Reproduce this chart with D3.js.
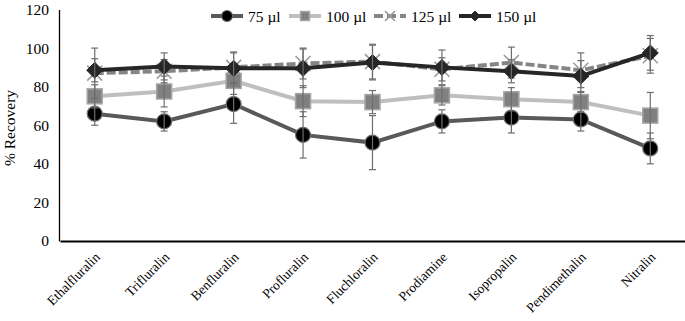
<!DOCTYPE html>
<html>
<head>
<meta charset="utf-8">
<script src="https://cdn.jsdelivr.net/npm/d3@7"></script>
<style>
body{margin:0;background:#fff;}
</style>
</head>
<body>
<svg id="chart"></svg>
<script>
var herbicides = ["Ethalfluralin","Trifluralin","Benfluralin","Profluralin","Fluchloralin","Prodiamine","Isopropalin","Pendimethalin","Nitralin"]
var yTicks = [0,20,40,60,80,100,120]
var seriesNames = ["75 \u00b5l","100 \u00b5l","125 \u00b5l","150 \u00b5l"]

var vol75 = [66,62,71,55,51,62,64,63,48]
var vol100 = [75,77.5,83,72.5,72,75.5,73.5,72,65]
var vol125 = [87,88,90,92,93,89,92.5,88.5,96]
var vol150 = [88.5,90.5,89.5,89.5,92.5,90,88,85.5,97.5]

var err75 = [6,5,10,12,14,6,8,6,8]
var err100 = [6,8,7,8,6,5,6,5,12]
var err125 = [13,6,8,8,9,6,8,9,9]
var err150 = [6,7,8,10,9,9,6,8,9]

var serif = "'Liberation Serif','Times New Roman','DejaVu Serif',serif"

var screen = {width:685,height:321}
var margins = {left:60,right:0,top:9,bottom:80}
var graph = {width:screen.width-margins.left-margins.right,height:screen.height-margins.top-margins.bottom}

var svg = d3.select("#chart")
    .attr("width",screen.width)
    .attr("height",screen.height)

var xScale = d3.scaleBand()
    .domain(herbicides)
    .range([margins.left,margins.left+graph.width])

var yScale = d3.scaleLinear()
    .domain([0,120])
    .range([241,9.5])

var series = [
    {name:seriesNames[0],values:vol75,errs:err75,line:"#595959",marker:"circle",fill:"#000",stroke:"#6e6e6e",dash:null},
    {name:seriesNames[1],values:vol100,errs:err100,line:"#bfbfbf",marker:"square",fill:"#808080",stroke:"#a6a6a6",dash:null},
    {name:seriesNames[2],values:vol125,errs:err125,line:"#858585",marker:"x",fill:"none",stroke:"#9a9a9a",dash:"9,3"},
    {name:seriesNames[3],values:vol150,errs:err150,line:"#262626",marker:"diamond",fill:"#262626",stroke:"#262626",dash:null}
]

var cx = function(i){return xScale(herbicides[i])+xScale.bandwidth()/2}

// axes
var yAxis = d3.axisLeft(yScale).tickValues(yTicks).tickSize(0).tickPadding(10)
svg.append("g")
    .attr("transform","translate("+(margins.left-1)+",0)")
    .call(yAxis)
    .attr("font-family",serif)
    .attr("font-size",15.5)
    .call(function(g){
        g.select(".domain").attr("stroke","#000").attr("stroke-width",1.3)
        g.selectAll("text").style("font-family",serif)
    })

var xAxis = d3.axisBottom(xScale).tickSize(0).tickPadding(0)
svg.append("g")
    .attr("transform","translate(0,"+yScale(0)+")")
    .call(xAxis)
    .attr("font-family",serif)
    .attr("font-size",13.5)
    .call(function(g){
        g.select(".domain").attr("stroke","#000").attr("stroke-width",2)
        g.selectAll("text")
            .style("font-family",serif)
            .attr("text-anchor","end")
            .attr("dy",null)
            .attr("y",0)
            .attr("transform","translate(6,17) rotate(-45)")
    })

svg.append("text")
    .text("% Recovery")
    .attr("text-anchor","middle")
    .style("font-family",serif)
    .style("font-size","15.5px")
    .attr("transform","translate(15,128) rotate(-90)")

var drawMarker = function(g,s,x,y,size)
{
    if(s.marker=="circle"){
        g.append("circle").attr("cx",x).attr("cy",y).attr("r",size/2)
            .attr("fill",s.fill).attr("stroke",s.stroke).attr("stroke-width",1.2)
    } else if(s.marker=="square"){
        g.append("rect").attr("x",x-size/2).attr("y",y-size/2).attr("width",size).attr("height",size)
            .attr("fill",s.fill).attr("stroke",s.stroke).attr("stroke-width",1.5)
    } else if(s.marker=="x"){
        var h = size/2
        g.append("path").attr("d","M"+(x-h)+","+(y-h)+"L"+(x+h)+","+(y+h)+"M"+(x-h)+","+(y+h)+"L"+(x+h)+","+(y-h))
            .attr("stroke",s.stroke).attr("stroke-width",1.6).attr("fill","none")
    } else {
        var d = size/2+0.5
        g.append("path").attr("d","M"+x+","+(y-d)+"L"+(x+d)+","+y+"L"+x+","+(y+d)+"L"+(x-d)+","+y+"Z")
            .attr("fill",s.fill).attr("stroke",s.stroke)
    }
}

var line = d3.line()
    .x(function(d,i){return cx(i)})
    .y(function(d){return yScale(d)})

series.forEach(function(s)
{
    var g = svg.append("g")
    g.append("path")
        .datum(s.values)
        .attr("d",line)
        .attr("fill","none")
        .attr("stroke",s.line)
        .attr("stroke-width",4)
        .attr("stroke-dasharray",s.dash)
    s.values.forEach(function(v,i){
        drawMarker(g,s,cx(i),yScale(v),15)
    })
    var eb = g.append("g").attr("stroke","#6e6e6e").attr("stroke-width",1.2)
    s.values.forEach(function(v,i){
        var x = cx(i), y1 = yScale(v+s.errs[i]), y2 = yScale(v-s.errs[i])
        eb.append("line").attr("x1",x).attr("x2",x).attr("y1",y1).attr("y2",y2)
        eb.append("line").attr("x1",x-3.5).attr("x2",x+3.5).attr("y1",y1).attr("y2",y1)
        eb.append("line").attr("x1",x-3.5).attr("x2",x+3.5).attr("y1",y2).attr("y2",y2)
    })
})

// legend
var legendX = [211,289,374,459]
var legend = svg.append("g")
series.forEach(function(s,i)
{
    var g = legend.append("g").attr("transform","translate("+legendX[i]+",16)")
    g.append("line").attr("x1",0).attr("x2",32).attr("y1",0).attr("y2",0)
        .attr("stroke",s.line).attr("stroke-width",4).attr("stroke-dasharray",s.dash?"9,4":null)
    drawMarker(g,s,16,0,s.marker=="circle"?11:(s.marker=="x"?10:9))
    g.append("text").text(s.name).attr("x",37).attr("y",5.5)
        .style("font-family",serif).style("font-size","15.5px")
})
</script>
</body>
</html>
